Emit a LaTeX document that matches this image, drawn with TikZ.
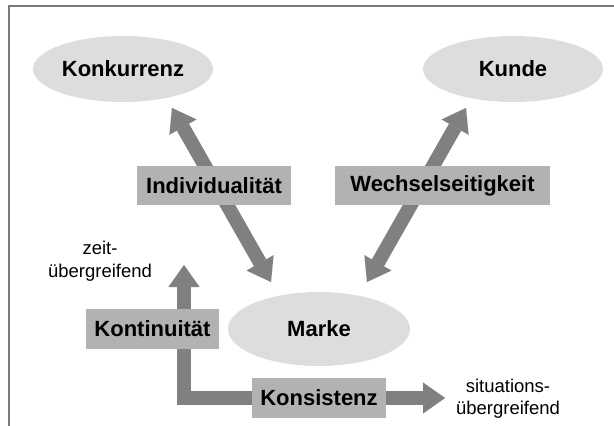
\documentclass[tikz,border=0pt]{standalone}
\usepackage{fontspec}
\setmainfont{Liberation Sans}
\usetikzlibrary{arrows.meta,shapes.geometric,backgrounds}

\definecolor{framegray}{HTML}{7A7A7A}
\definecolor{ovalfill}{HTML}{DDDDDD}
\definecolor{boxfill}{HTML}{B2B2B2}
\definecolor{arrowgray}{HTML}{808080}

\tikzset{
  oval/.style={ellipse, fill=ovalfill, inner sep=0pt,
    font=\fontsize{22}{26}\selectfont\bfseries},
  labelbox/.style={rectangle, fill=boxfill, inner sep=0pt, minimum height=39.5pt,
    font=\fontsize{22}{26}\selectfont\bfseries},
  note/.style={align=center, inner sep=0pt,
    font=\fontsize{18.5}{22.5}\selectfont},
  headtip/.tip={Triangle[width=31pt,length=22pt,line width=0.01pt]},
  flow/.style={draw=arrowgray, line width=14pt, line join=miter},
}

\begin{document}
\begin{tikzpicture}[x=1pt,y=-1pt]
  \useasboundingbox (0,0) rectangle (614,426);

  % outer frame (open to the right and bottom)
  \draw[framegray, line width=1.5pt] (9,426) -- (9,6) -- (614,6);

  % the three actors
  \node[oval, minimum width=180pt, minimum height=66pt] (konk) at (123,69) {Konkurrenz};
  \node[oval, minimum width=180pt, minimum height=66pt] (kunde) at (513,69) {Kunde};
  \node[oval, minimum width=182pt, minimum height=74pt] (marke) at (319,329) {Marke};

  % relation labels
  \node[labelbox, minimum width=154pt] (indiv) at (214,185.5) {Individualität};
  \node[labelbox, minimum width=215pt] (wechsel) at (442.5,185.5) {Wechselseitigkeit};
  \node[labelbox, minimum width=133pt] (konti) at (152.5,329) {Kontinuität};
  \node[labelbox, minimum width=134pt] (konsi) at (319,398) {Konsistenz};

  % free texts
  \node[note] (zeit) at (100,261) {zeit-\\übergreifend};
  \node[note] (situ) at (508,398.5) {situations-\\übergreifend};

  % arrow end points
  \coordinate (konkTip) at (172,108);
  \coordinate (markeL) at (271,282);
  \coordinate (kundeTip) at (466,108);
  \coordinate (markeR) at (367,282);
  \coordinate (bend) at (184,398);
  \coordinate (zeitTip) at (184,265);
  \coordinate (situTip) at (445,398);

  \begin{scope}[on background layer]
    \draw[flow, headtip-headtip] (konkTip) -- (markeL);
    \draw[flow, headtip-headtip] (kundeTip) -- (markeR);
    \draw[flow, -headtip] (konsi.west) -- (bend) -- (zeitTip);
    \draw[flow, -headtip] (konsi.east) -- (situTip);
  \end{scope}
\end{tikzpicture}
\end{document}
